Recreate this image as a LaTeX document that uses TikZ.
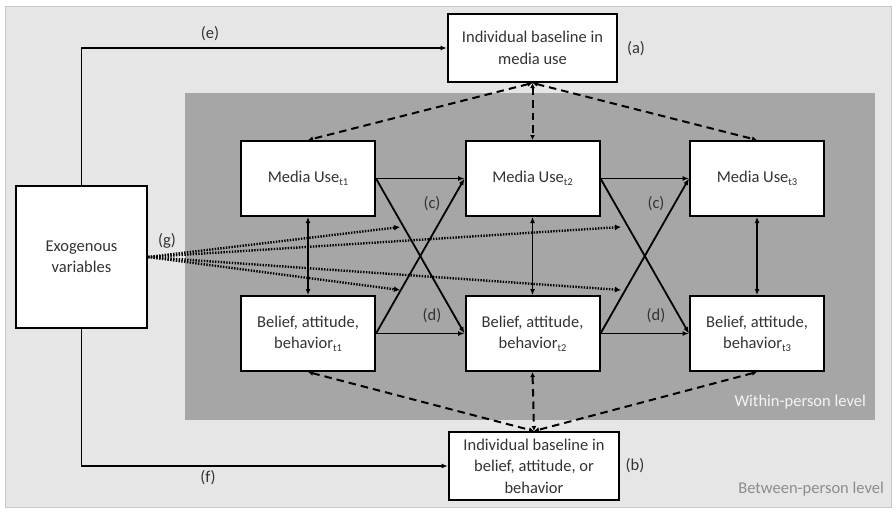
\documentclass[tikz,border=0pt]{standalone}
\usepackage{fontspec}
\setmainfont{Carlito}
\usetikzlibrary{arrows.meta}
\definecolor{outerbg}{HTML}{E6E6E6}
\definecolor{outerline}{HTML}{C8C8C8}
\definecolor{innerbg}{HTML}{A6A6A6}
\definecolor{txt}{HTML}{333333}
\newcommand{\tsub}[1]{\raisebox{-0.35ex}{\fontsize{10.5}{11}\selectfont #1}}
\tikzset{
  box/.style={draw=black, fill=white, line width=2pt, align=center, text=txt,
    font=\fontsize{16.5}{21.5}\selectfont, inner sep=2pt},
  tbox/.style={box, minimum width=134pt, minimum height=75pt},
  conn/.style={line width=1.8pt, -{Latex[length=6.5pt,width=5pt]}},
  dconn/.style={line width=1.8pt, {Latex[length=6pt,width=5pt]}-{Latex[length=6pt,width=5pt]}},
  dashconn/.style={line width=2pt, dash pattern=on 7.5pt off 5pt,
    {Latex[length=5pt,width=5pt]}-{Latex[length=5pt,width=5pt]}},
  dotconn/.style={line width=2.4pt, dash pattern=on 1.4pt off 1.4pt, -{Latex[length=6pt,width=6pt]}},
  lbl/.style={text=txt, font=\fontsize{16.5}{18}\selectfont, inner sep=0pt},
}
\begin{document}
\begin{tikzpicture}[x=1pt, y=-1pt]
\useasboundingbox (0,0) rectangle (896,512);
\fill[white] (0,0) rectangle (896,512);
\draw[outerline, fill=outerbg, line width=1pt] (5,6) rectangle (891,507);
\fill[innerbg] (185,93) rectangle (875,420);

% nodes
\node[box, minimum width=131pt, minimum height=142pt] (exo) at (81.5,257) {Exogenous\\variables};
\node[box, minimum width=169pt, minimum height=68pt] (top) at (532.5,48) {Individual baseline in\\media use};
\node[box, minimum width=170pt, minimum height=68pt] (bot) at (534,466) {Individual baseline in\\belief, attitude, or\\behavior};

\node[tbox] (m1) at (308,178.5) {Media Use\tsub{t1}};
\node[tbox] (m2) at (532.5,178.5) {Media Use\tsub{t2}};
\node[tbox] (m3) at (757,178.5) {Media Use\tsub{t3}};
\node[tbox] (b1) at (308,333.5) {Belief, attitude,\\behavior\tsub{t1}};
\node[tbox] (b2) at (532.5,333.5) {Belief, attitude,\\behavior\tsub{t2}};
\node[tbox] (b3) at (757,333.5) {Belief, attitude,\\behavior\tsub{t3}};

% labels
\node[lbl] (la) at (636,49) {(a)};
\node[lbl] (lb) at (635,466) {(b)};
\node[lbl] (lc1) at (432,204) {(c)};
\node[lbl] (lc2) at (656,204) {(c)};
\node[lbl] (ld1) at (432,316) {(d)};
\node[lbl] (ld2) at (656,316) {(d)};
\node[lbl] (le) at (210,34) {(e)};
\node[lbl] (lf) at (208,478) {(f)};
\node[lbl] (lg) at (167,241) {(g)};
\node[lbl, text=white!88!innerbg, anchor=east] (lw) at (866,402) {Within-person level};
\node[lbl, text=black!45, anchor=east] (lbp) at (884,489) {Between-person level};

% e and f
\draw[conn] (exo.north) |- (top.west);
\draw[conn] (exo.south) |- (bot.west);

% horizontal and cross-lagged
\draw[conn] (m1.east) -- (m2.west);
\draw[conn] (m2.east) -- (m3.west);
\draw[conn] (b1.east) -- (b2.west);
\draw[conn] (b2.east) -- (b3.west);
\draw[conn] (m1.east) -- (b2.west);
\draw[conn] (b1.east) -- (m2.west);
\draw[conn] (m2.east) -- (b3.west);
\draw[conn] (b2.east) -- (m3.west);

% within-time
\draw[dconn] (m1.south) -- (b1.north);
\draw[dconn] (m2.south) -- (b2.north);
\draw[dconn] (m3.south) -- (b3.north);

% dashed
\draw[dashconn] (top.south) -- (m1.north);
\draw[dashconn] (top.south) -- (m2.north);
\draw[dashconn] (top.south) -- (m3.north);
\draw[dashconn] (b1.south) -- (bot.north);
\draw[dashconn] (b2.south) -- (bot.north);
\draw[dashconn] (b3.south) -- (bot.north);

% dotted
\coordinate (g1) at (400,227);
\coordinate (g2) at (621,227);
\coordinate (g3) at (400,290);
\coordinate (g4) at (621,290);
\draw[dotconn] (exo.east) -- (g1);
\draw[dotconn] (exo.east) -- (g2);
\draw[dotconn] (exo.east) -- (g3);
\draw[dotconn] (exo.east) -- (g4);
\end{tikzpicture}
\end{document}
